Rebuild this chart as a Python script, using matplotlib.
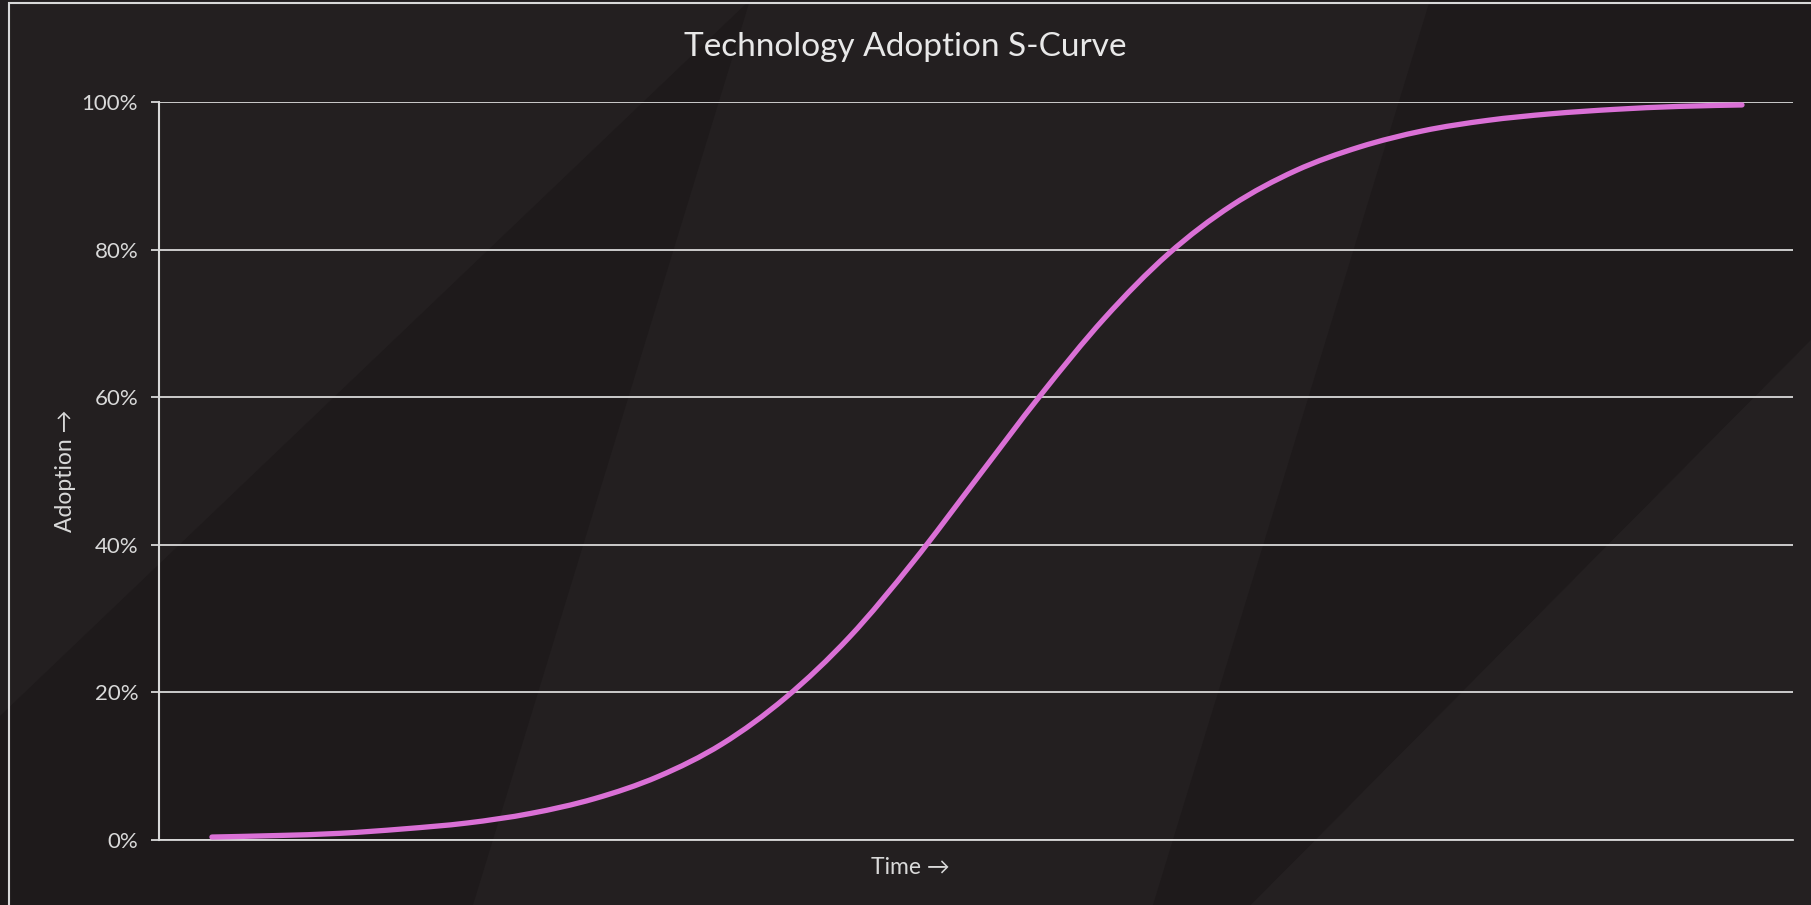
import matplotlib.pyplot as plt
from matplotlib.patches import Polygon, Rectangle, PathPatch
from matplotlib.path import Path
from matplotlib.ticker import PercentFormatter

# adoption share (%), equally spaced in time
time_steps = list(range(25))
adoption = [0.4, 0.6, 0.9, 1.5, 2.3, 3.6, 5.6, 8.6, 13.0, 19.3, 27.5, 37.7, 49.0,
            60.3, 70.7, 79.4, 86.0, 90.7, 93.9, 96.1, 97.5, 98.4, 99.0, 99.4, 99.6]
y_ticks = [0, 20, 40, 60, 80, 100]

W, H = 1811, 905
bg = "#231f20"
dark = "#1e1a1b"
light = "#242021"
txt = "#d9d9d9"

plt.rcParams['font.family'] = ['Lato', 'DejaVu Sans']

fig = plt.figure(figsize=(W / 100, H / 100), dpi=100, facecolor=bg)


def px(points):
    # pixel coords (top-left origin) -> figure fraction
    return [(x / W, 1 - y / H) for x, y in points]


def smooth_path(xs, ys):
    # Catmull-Rom through the points, as cubic bezier segments (like a smoothed line)
    verts = [(xs[0], ys[0])]
    codes = [Path.MOVETO]
    n = len(xs)
    for i in range(n - 1):
        x0, y0 = (xs[i - 1], ys[i - 1]) if i > 0 else (xs[i], ys[i])
        x1, y1 = xs[i], ys[i]
        x2, y2 = xs[i + 1], ys[i + 1]
        x3, y3 = (xs[i + 2], ys[i + 2]) if i + 2 < n else (x2, y2)
        verts += [(x1 + (x2 - x0) / 6, y1 + (y2 - y0) / 6),
                  (x2 - (x3 - x1) / 6, y2 - (y3 - y1) / 6),
                  (x2, y2)]
        codes += [Path.CURVE4] * 3
    return Path(verts, codes)


# subtle diagonal shading behind the chart
shapes = [
    ([(0, 716), (750, 0), (473, 905), (0, 905)], dark),
    ([(1430, 0), (1811, 0), (1811, 340), (1251, 905), (1153, 905)], dark),
    ([(1811, 340), (1811, 905), (1251, 905)], light),
]
for pts, c in shapes:
    fig.add_artist(Polygon(px(pts), closed=True, transform=fig.transFigure,
                           facecolor=c, edgecolor="none", zorder=-10))

# chart border (partly cropped in the reference)
fig.add_artist(Rectangle((8.5 / W, -0.1), 1.2, 1 + 0.1 - 3.5 / H, transform=fig.transFigure,
                         facecolor="none", edgecolor="#d9d9d9", linewidth=1.5, zorder=-5))

ax = fig.add_axes([159 / W, 1 - 840 / H, (1793 - 159) / W, (840 - 102) / H])
ax.set_facecolor("none")

ax.add_patch(PathPatch(smooth_path(time_steps, adoption), facecolor="none",
                       edgecolor="#da70d6", linewidth=3.8, capstyle="round", zorder=3))

ax.set_xlim(-0.83, 24.8)
ax.set_ylim(0, 100)
ax.set_yticks(y_ticks)
ax.yaxis.set_major_formatter(PercentFormatter(decimals=0))
ax.set_xticks([])
ax.grid(axis="y", color="#d9d9d9", linewidth=1.3)
ax.set_axisbelow(True)

for side in ["top", "right"]:
    ax.spines[side].set_visible(False)
ax.spines["left"].set_color("#d9d9d9")
ax.spines["left"].set_linewidth(1.5)
ax.spines["bottom"].set_color("#d9d9d9")
ax.spines["bottom"].set_linewidth(1.3)

ax.tick_params(axis="y", colors="#d9d9d9", length=6, width=1.3, pad=9, labelsize=16,
               labelcolor=txt)

ax.set_ylabel("Adoption →", color=txt, fontsize=16.5)
ax.yaxis.set_label_coords(-0.051, 0.5)
ax.set_xlabel("Time →", color=txt, fontsize=16.5)
ax.xaxis.set_label_coords(0.46, -0.023)

fig.text(0.5, 1 - 47 / H, "Technology Adoption S-Curve", ha="center", va="center",
         color="#e8e8e8", fontsize=24)

fig.savefig("out.png", dpi=100, facecolor=bg)
